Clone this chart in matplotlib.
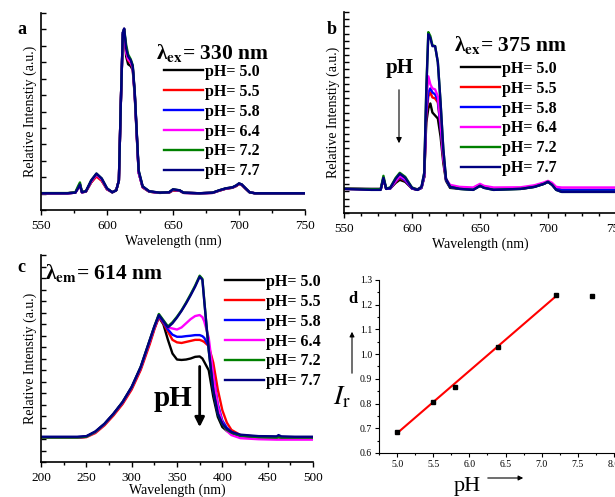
import numpy as np
import matplotlib.pyplot as plt
from matplotlib.ticker import MultipleLocator

plt.rcParams['font.family'] = ['Liberation Serif', 'DejaVu Serif']
plt.rcParams['mathtext.fontset'] = 'stix'

# ---------------- data ----------------
ph_labels = ["pH= 5.0", "pH= 5.5", "pH= 5.8", "pH= 6.4", "pH= 7.2", "pH= 7.7"]
colors = ['black', '#ff0000', '#0000ff', '#ff00ff', '#008000', '#000080']

# panel a : emission, excitation 330 nm
wl_a = [550, 570, 576, 578, 579.5, 581, 584, 588, 592, 596, 600, 604, 607, 609, 610.5,
        612, 613, 614.5, 616, 618, 619.5, 621, 622.5, 624, 627, 632, 640, 647, 650, 655,
        658, 670, 680, 685, 690, 695, 698, 700, 702, 705, 708, 712, 730, 750]
a_50 = [0.085, 0.085, 0.088, 0.11, 0.125, 0.09, 0.093, 0.14, 0.175, 0.15, 0.105, 0.09, 0.10, 0.15, 0.55,
        0.89, 0.91, 0.78, 0.74, 0.73, 0.71, 0.58, 0.38, 0.19, 0.115, 0.093, 0.087, 0.088, 0.10, 0.098,
        0.087, 0.085, 0.087, 0.098, 0.108, 0.113, 0.122, 0.132, 0.128, 0.108, 0.09, 0.085, 0.085, 0.085]
a_55 = [0.085, 0.085, 0.088, 0.11, 0.125, 0.09, 0.093, 0.14, 0.17, 0.148, 0.105, 0.09, 0.10, 0.15, 0.55,
        0.89, 0.91, 0.80, 0.76, 0.745, 0.72, 0.59, 0.39, 0.19, 0.115, 0.093, 0.087, 0.088, 0.10, 0.098,
        0.087, 0.085, 0.087, 0.098, 0.108, 0.113, 0.122, 0.132, 0.128, 0.108, 0.09, 0.085, 0.085, 0.085]
a_58 = [0.085, 0.085, 0.088, 0.11, 0.13, 0.09, 0.094, 0.145, 0.18, 0.155, 0.107, 0.09, 0.10, 0.15, 0.55,
        0.90, 0.92, 0.81, 0.77, 0.755, 0.725, 0.59, 0.39, 0.19, 0.117, 0.094, 0.087, 0.089, 0.103, 0.099,
        0.087, 0.085, 0.087, 0.099, 0.109, 0.114, 0.124, 0.134, 0.129, 0.109, 0.09, 0.085, 0.085, 0.085]
a_64 = [0.085, 0.085, 0.088, 0.11, 0.13, 0.09, 0.094, 0.145, 0.18, 0.155, 0.107, 0.09, 0.10, 0.15, 0.55,
        0.90, 0.92, 0.80, 0.765, 0.75, 0.72, 0.59, 0.39, 0.19, 0.117, 0.094, 0.087, 0.089, 0.103, 0.099,
        0.087, 0.085, 0.087, 0.099, 0.109, 0.114, 0.124, 0.134, 0.129, 0.109, 0.09, 0.085, 0.085, 0.085]
a_72 = [0.086, 0.086, 0.09, 0.12, 0.14, 0.092, 0.095, 0.15, 0.185, 0.16, 0.11, 0.09, 0.10, 0.15, 0.55,
        0.90, 0.92, 0.84, 0.79, 0.765, 0.735, 0.60, 0.40, 0.20, 0.12, 0.095, 0.088, 0.09, 0.105, 0.10,
        0.088, 0.085, 0.088, 0.10, 0.11, 0.115, 0.125, 0.135, 0.13, 0.11, 0.09, 0.085, 0.085, 0.085]
a_77 = [0.085, 0.085, 0.088, 0.11, 0.13, 0.09, 0.095, 0.15, 0.185, 0.16, 0.11, 0.09, 0.10, 0.15, 0.55,
        0.90, 0.92, 0.82, 0.78, 0.76, 0.73, 0.60, 0.40, 0.20, 0.12, 0.095, 0.088, 0.09, 0.105, 0.10,
        0.088, 0.085, 0.088, 0.10, 0.11, 0.115, 0.125, 0.135, 0.13, 0.11, 0.09, 0.085, 0.085, 0.085]

# panel b : emission, excitation 375 nm
wl_b = [550, 570, 577, 579, 581, 584, 588, 591, 595, 600, 604, 607, 609, 610.5, 612,
        613.5, 615, 617, 619, 621, 623, 625, 628, 635, 645, 650, 653, 660, 680, 690,
        697, 700, 703, 706, 710, 730, 750]
b_50 = [0.12, 0.118, 0.118, 0.17, 0.12, 0.122, 0.15, 0.165, 0.155, 0.122, 0.115, 0.125, 0.18, 0.45, 0.52,
        0.545, 0.50, 0.485, 0.47, 0.38, 0.25, 0.16, 0.125, 0.12, 0.118, 0.135, 0.127, 0.118, 0.12, 0.13,
        0.145, 0.155, 0.14, 0.12, 0.112, 0.112, 0.112]
b_55 = [0.12, 0.118, 0.118, 0.17, 0.12, 0.122, 0.155, 0.175, 0.16, 0.122, 0.115, 0.125, 0.18, 0.48, 0.58,
        0.60, 0.575, 0.57, 0.55, 0.43, 0.27, 0.165, 0.13, 0.122, 0.12, 0.137, 0.128, 0.12, 0.122, 0.132,
        0.147, 0.157, 0.143, 0.122, 0.115, 0.115, 0.115]
b_58 = [0.12, 0.118, 0.118, 0.172, 0.12, 0.122, 0.158, 0.18, 0.162, 0.122, 0.115, 0.125, 0.18, 0.5, 0.60,
        0.62, 0.60, 0.59, 0.56, 0.43, 0.28, 0.165, 0.13, 0.122, 0.12, 0.137, 0.128, 0.12, 0.122, 0.132,
        0.147, 0.157, 0.143, 0.122, 0.115, 0.115, 0.115]
b_64 = [0.122, 0.12, 0.12, 0.175, 0.122, 0.125, 0.16, 0.185, 0.168, 0.125, 0.118, 0.128, 0.19, 0.55, 0.68,
        0.64, 0.62, 0.615, 0.58, 0.45, 0.28, 0.17, 0.14, 0.13, 0.127, 0.145, 0.135, 0.127, 0.128, 0.138,
        0.152, 0.16, 0.15, 0.13, 0.127, 0.127, 0.127]
b_72 = [0.122, 0.12, 0.12, 0.185, 0.122, 0.127, 0.175, 0.20, 0.18, 0.127, 0.117, 0.13, 0.2, 0.62, 0.90,
        0.88, 0.835, 0.83, 0.75, 0.55, 0.32, 0.17, 0.13, 0.12, 0.115, 0.135, 0.125, 0.115, 0.12, 0.13,
        0.145, 0.155, 0.14, 0.115, 0.105, 0.105, 0.105]
b_77 = [0.12, 0.115, 0.115, 0.175, 0.12, 0.125, 0.17, 0.195, 0.175, 0.125, 0.115, 0.13, 0.2, 0.60, 0.89,
        0.87, 0.83, 0.83, 0.75, 0.55, 0.32, 0.17, 0.13, 0.12, 0.115, 0.135, 0.125, 0.115, 0.12, 0.13,
        0.145, 0.155, 0.14, 0.115, 0.105, 0.105, 0.105]

# panel c : excitation, emission 614 nm
wl_c = [200, 240, 250, 260, 270, 280, 290, 300, 310, 320, 325, 330, 335, 340, 345, 350, 355, 360,
        365, 370, 375, 378, 380, 385, 390, 395, 400, 405, 410, 420, 440, 460, 462, 465, 480, 500]
c_50 = [0.118, 0.118, 0.122, 0.145, 0.182, 0.23, 0.285, 0.357, 0.452, 0.58, 0.645, 0.70, 0.665, 0.59,
        0.524, 0.495, 0.493, 0.495, 0.50, 0.508, 0.51, 0.50, 0.484, 0.443, 0.315, 0.218, 0.169, 0.15,
        0.137, 0.124, 0.12, 0.118, 0.12, 0.117, 0.115, 0.115]
c_55 = [0.118, 0.118, 0.12, 0.14, 0.177, 0.225, 0.28, 0.35, 0.445, 0.57, 0.64, 0.70, 0.67, 0.63,
        0.59, 0.578, 0.575, 0.58, 0.585, 0.59, 0.59, 0.585, 0.58, 0.56, 0.48, 0.35, 0.25, 0.19,
        0.155, 0.13, 0.122, 0.12, 0.122, 0.12, 0.12, 0.12]
c_58 = [0.12, 0.12, 0.123, 0.145, 0.183, 0.232, 0.288, 0.36, 0.456, 0.585, 0.65, 0.705, 0.675, 0.64,
        0.615, 0.605, 0.605, 0.608, 0.61, 0.613, 0.613, 0.608, 0.60, 0.56, 0.42, 0.28, 0.20, 0.165,
        0.145, 0.128, 0.122, 0.12, 0.122, 0.12, 0.12, 0.12]
c_64 = [0.118, 0.118, 0.122, 0.145, 0.183, 0.232, 0.288, 0.36, 0.456, 0.585, 0.65, 0.71, 0.68, 0.65,
        0.645, 0.64, 0.65, 0.67, 0.69, 0.705, 0.71, 0.70, 0.68, 0.60, 0.42, 0.27, 0.19, 0.15,
        0.13, 0.115, 0.11, 0.108, 0.108, 0.108, 0.108, 0.108]
c_72 = [0.118, 0.118, 0.122, 0.146, 0.184, 0.233, 0.29, 0.362, 0.46, 0.59, 0.655, 0.715, 0.685, 0.655,
        0.675, 0.702, 0.733, 0.77, 0.81, 0.852, 0.90, 0.885, 0.785, 0.54, 0.345, 0.232, 0.183, 0.155,
        0.142, 0.128, 0.12, 0.118, 0.12, 0.118, 0.118, 0.118]
c_77 = [0.122, 0.122, 0.125, 0.148, 0.185, 0.234, 0.29, 0.363, 0.46, 0.59, 0.655, 0.71, 0.68, 0.65,
        0.67, 0.698, 0.73, 0.766, 0.805, 0.847, 0.895, 0.88, 0.78, 0.54, 0.347, 0.234, 0.185, 0.16,
        0.145, 0.132, 0.125, 0.124, 0.13, 0.124, 0.122, 0.122]

# panel d : intensity ratio vs pH
ph_vals = [5.0, 5.5, 5.8, 6.4, 7.2, 7.7]
ir_vals = [0.685, 0.805, 0.866, 1.03, 1.24, 1.235]
fit_ph = [5.0, 7.2]
fit_ir = [0.680, 1.235]

spectra_a = [a_50, a_55, a_58, a_64, a_72, a_77]
spectra_b = [b_50, b_55, b_58, b_64, b_72, b_77]
spectra_c = [c_50, c_55, c_58, c_64, c_72, c_77]

# ---------------- figure ----------------
fig = plt.figure(figsize=(6.15, 4.97), dpi=100)


def fpos(left, top, right, bottom):
    # pixel box -> figure fraction
    return [left / 615, 1 - bottom / 497, (right - left) / 615, (bottom - top) / 497]


def spectrum_axes(ax, xlim, xmaj, xmin_, ystep):
    ax.set_xlim(*xlim)
    ax.set_ylim(0, 1)
    ax.xaxis.set_major_locator(MultipleLocator(xmaj))
    ax.xaxis.set_minor_locator(MultipleLocator(xmin_))
    ax.yaxis.set_major_locator(MultipleLocator(ystep))
    ax.tick_params(axis='x', which='both', direction='out', labelsize=9.5, width=1)
    ax.tick_params(axis='y', which='both', direction='in', width=1, labelleft=False)
    ax.tick_params(which='major', length=3.5)
    ax.tick_params(which='minor', length=2)
    for s in ['top', 'right']:
        ax.spines[s].set_visible(False)
    for s in ['left', 'bottom']:
        ax.spines[s].set_linewidth(1.2)
    ax.set_xlabel("Wavelength (nm)", fontsize=10, labelpad=2)
    ax.set_ylabel("Relative Intenstiy (a.u.)", fontsize=10, labelpad=3)


leg_kw = dict(frameon=False, prop={'weight': 'bold', 'size': 11.5}, handlelength=2.45,
              handletextpad=0.1, labelspacing=0.24, borderpad=0, borderaxespad=0,
              bbox_transform=fig.transFigure, loc='upper left')

# ---- a ----
ax_a = fig.add_axes(fpos(41, 13, 305, 210))
for ys, c, lab in zip(spectra_a, colors, ph_labels):
    ax_a.plot(wl_a, ys, color=c, lw=1.7, label=lab)
spectrum_axes(ax_a, (550, 750), 50, 25, 1 / 12)
ax_a.legend(bbox_to_anchor=(164 / 615, 1 - 64 / 497), **leg_kw)
fig.text(156 / 615, 1 - 53 / 497, r"λ$_{\mathbf{ex}}$= 330 nm", fontsize=15.5, fontweight='bold',
         va='center', ha='left')
fig.text(22 / 615, 1 - 30 / 497, "a", fontsize=13, fontweight='bold', va='center', ha='center')

# ---- b ----
ax_b = fig.add_axes(fpos(344, 12, 616, 213))
for ys, c, lab in zip(spectra_b, colors, ph_labels):
    ax_b.plot(wl_b, ys, color=c, lw=1.7, label=lab)
spectrum_axes(ax_b, (550, 750), 50, 12.5, 1 / 28)
ax_b.legend(bbox_to_anchor=(461 / 615, 1 - 61 / 497), **leg_kw)
fig.text(454 / 615, 1 - 45 / 497, r"λ$_{\mathbf{ex}}$= 375 nm", fontsize=15.5, fontweight='bold',
         va='center', ha='left')
fig.text(332 / 615, 1 - 30 / 497, "b", fontsize=13, fontweight='bold', va='center', ha='center')
fig.text(400 / 615, 1 - 68 / 497, "pH", fontsize=15, fontweight='bold', va='center', ha='center')
ax_b.annotate("", xy=(399 / 615, 1 - 146 / 497), xytext=(399 / 615, 1 - 87 / 497),
              xycoords='figure fraction', textcoords='figure fraction',
              arrowprops=dict(arrowstyle='-|>', color='black', lw=0.8, mutation_scale=8))

# ---- c ----
ax_c = fig.add_axes(fpos(41, 255, 313, 462))
for ys, c, lab in zip(spectra_c, colors, ph_labels):
    ax_c.plot(wl_c, ys, color=c, lw=1.7, label=lab)
spectrum_axes(ax_c, (200, 500), 50, 25, 1 / 18)
ax_c.set_xlabel("Wavelength (nm)", fontsize=10, labelpad=0)
ax_c.legend(bbox_to_anchor=(225 / 615, 1 - 274 / 497), **leg_kw)
fig.text(45 / 615, 1 - 273 / 497, r"λ$_{\mathbf{em}}$= 614 nm", fontsize=15.5, fontweight='bold',
         va='center', ha='left')
fig.text(21 / 615, 1 - 267 / 497, "c", fontsize=13, fontweight='bold', va='center', ha='center')
fig.text(173 / 615, 1 - 398 / 497, "pH", fontsize=21, fontweight='bold', va='center', ha='center')
ax_c.annotate("", xy=(375, 0.155), xytext=(375, 0.475),
              arrowprops=dict(arrowstyle='-|>', color='black', lw=2, mutation_scale=14))

# ---- d ----
ax_d = fig.add_axes(fpos(379, 280, 614, 453))
ax_d.plot(fit_ph, fit_ir, color='#ff0000', lw=1.5)
ax_d.plot(ph_vals, ir_vals, 's', color='black', ms=3.5)
ax_d.set_xlim(4.75, 8.0)
ax_d.set_ylim(0.6, 1.3)
ax_d.xaxis.set_major_locator(MultipleLocator(0.5))
ax_d.xaxis.set_minor_locator(MultipleLocator(0.25))
ax_d.yaxis.set_major_locator(MultipleLocator(0.1))
ax_d.yaxis.set_minor_locator(MultipleLocator(0.05))
ax_d.tick_params(which='both', direction='out', labelsize=7, width=0.8, pad=2)
ax_d.tick_params(which='major', length=3)
ax_d.tick_params(which='minor', length=1.5)
for s in ['top', 'right']:
    ax_d.spines[s].set_visible(False)
fig.text(353 / 615, 1 - 299 / 497, "d", fontsize=12, fontweight='bold', va='center', ha='center')
fig.text(342 / 615, 1 - 398 / 497, r"$I_\mathrm{r}$", fontsize=20, va='center', ha='center')
fig.text(467 / 615, 1 - 486 / 497, "pH", fontsize=16, va='center', ha='center')
ax_d.annotate("", xy=(352 / 615, 1 - 329 / 497), xytext=(352 / 615, 1 - 376 / 497),
              xycoords='figure fraction', textcoords='figure fraction',
              arrowprops=dict(arrowstyle='-|>', color='black', lw=0.8, mutation_scale=7))
ax_d.annotate("", xy=(526 / 615, 1 - 478 / 497), xytext=(485 / 615, 1 - 478 / 497),
              xycoords='figure fraction', textcoords='figure fraction',
              arrowprops=dict(arrowstyle='-|>', color='black', lw=0.8, mutation_scale=7))

fig.savefig("out.png", dpi=100)
